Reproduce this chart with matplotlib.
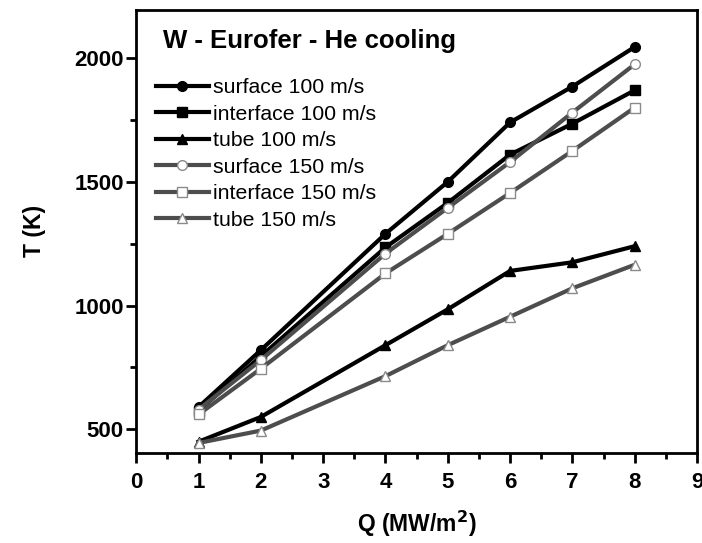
import matplotlib
matplotlib.use("Agg")
import matplotlib.pyplot as plt
from matplotlib.ticker import MultipleLocator

plt.rcParams['font.family'] = ['Liberation Sans', 'DejaVu Sans']

# Data
q = [1, 2, 4, 5, 6, 7, 8]
surface_100 = [590, 820, 1290, 1500, 1740, 1885, 2045]
interface_100 = [575, 795, 1235, 1415, 1610, 1735, 1870]
tube_100 = [450, 550, 840, 985, 1140, 1175, 1240]
surface_150 = [580, 780, 1210, 1395, 1580, 1780, 1975]
interface_150 = [560, 745, 1130, 1290, 1455, 1625, 1800]
tube_150 = [445, 495, 715, 840, 955, 1070, 1165]

labels = ['surface 100 m/s', 'interface 100 m/s', 'tube 100 m/s',
          'surface 150 m/s', 'interface 150 m/s', 'tube 150 m/s']

fig = plt.figure(figsize=(7.02, 5.43), dpi=100)
ax = fig.add_axes([0.194, 0.166, 0.799, 0.816])

black = '#000000'
grey = '#4d4d4d'
series = [
    (surface_100, 'o', black, black),
    (interface_100, 's', black, black),
    (tube_100, '^', black, black),
    (surface_150, 'o', grey, 'white'),
    (interface_150, 's', grey, 'white'),
    (tube_150, '^', grey, 'white'),
]

for (vals, m, c, fc), lab in zip(series, labels):
    ax.plot(q, vals, color=c, lw=3, marker=m, ms=7, markerfacecolor=fc,
            markeredgecolor=black if fc == black else '#8a8a8a',
            markeredgewidth=1, label=lab)

ax.set_xlim(0, 9)
ax.set_ylim(405, 2195)
ax.xaxis.set_major_locator(MultipleLocator(1))
ax.xaxis.set_minor_locator(MultipleLocator(0.5))
ax.yaxis.set_major_locator(MultipleLocator(500))
ax.yaxis.set_minor_locator(MultipleLocator(250))
ax.tick_params(which='major', direction='out', length=7.5, width=2, labelsize=16)
ax.tick_params(axis='x', which='major', pad=6)
ax.tick_params(axis='y', which='major', pad=1.5)
ax.tick_params(which='minor', direction='out', length=4, width=2)
for lbl in ax.get_xticklabels() + ax.get_yticklabels():
    lbl.set_fontweight('bold')
for sp in ax.spines.values():
    sp.set_linewidth(2)

ax.set_xlabel('Q (MW/m$^\\mathbf{2}$)', fontsize=16.5, fontweight='bold', labelpad=12)
ax.set_ylabel('T (K)', fontsize=16.5, fontweight='bold', labelpad=20)

ax.text(0.048, 0.93, 'W - Eurofer - He cooling', transform=ax.transAxes,
        fontsize=18.5, fontweight='bold', va='center')

ax.legend(loc='upper left', bbox_to_anchor=(0.035, 0.845), frameon=False,
          fontsize=15.3, handlelength=2.5, handletextpad=0.2, labelspacing=0.35,
          borderaxespad=0, borderpad=0)

fig.savefig('out.png', dpi=100)
